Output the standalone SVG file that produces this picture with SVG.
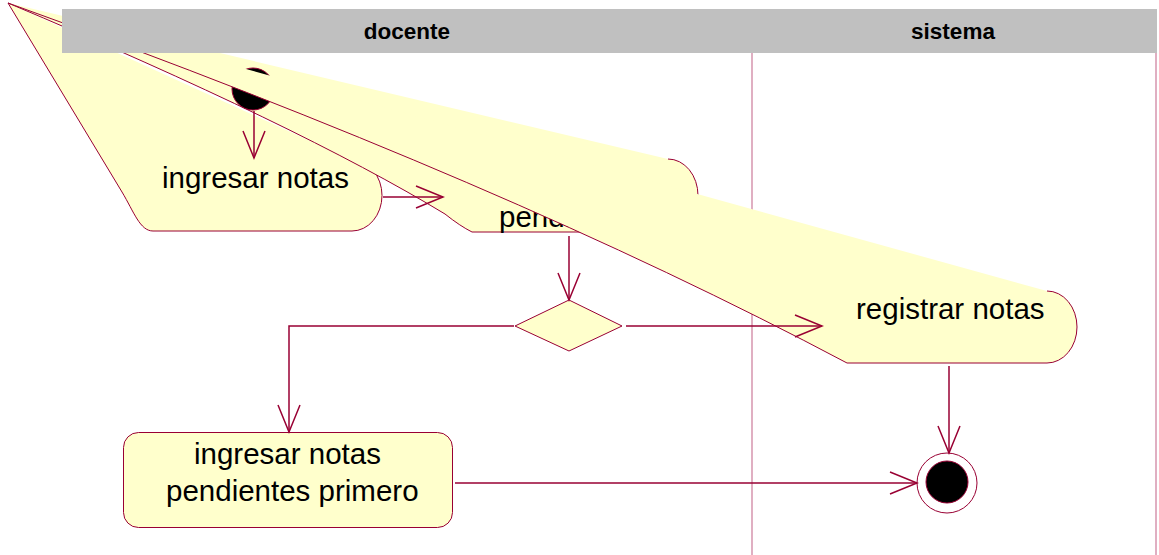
<svg xmlns="http://www.w3.org/2000/svg" width="1159" height="555" viewBox="0 0 1159 555">
<defs>
<style>
.fillY{fill:#FFFFCC;stroke:none}
.edge{fill:none;stroke:#990033;stroke-width:1}
.lane{stroke:#CC7A99;stroke-width:1.2;fill:none}
.lbl{font-family:"Liberation Sans",Arial,sans-serif;font-size:29.5px;fill:#000}
.hdr{font-family:"Liberation Sans",Arial,sans-serif;font-size:22.5px;font-weight:bold;fill:#000;text-anchor:middle}
.conn{fill:none;stroke:#990033;stroke-width:1.5}
</style>
<marker id="arr" markerUnits="userSpaceOnUse" markerWidth="32" markerHeight="26" refX="28" refY="12" orient="auto">
<path d="M1,1 L28,12 L1,23" fill="none" stroke="#990033" stroke-width="1.5"/>
</marker>
</defs>
<rect width="1159" height="555" fill="#FFFFFF"/>
<g id="lanes">
<line class="lane" x1="752" y1="53" x2="752" y2="555"/>
<line class="lane" x1="1156" y1="53" x2="1156" y2="555"/>
</g>
<g id="ingresar-notas">
<path class="fillY" d="M8 3 L122 192 C134 212 140 231 153 231 L352 231 A30 35.5 0 0 0 352 160 Z"/>
<path class="edge" d="M8 3 L122 192 C134 212 140 231 153 231 L352 231 A30 35.5 0 0 0 352 160"/>
<text class="lbl" x="162" y="188">ingresar notas</text>
</g>
<g id="pendientes">
<path class="fillY" d="M8 3 Q298 125 445 214 Q460 226 472 232 L668 232 A30 36.5 0 0 0 668 159 Z"/>
<path class="edge" d="M8 3 Q298 125 445 214 Q460 226 472 232 L668 232 A30 36.5 0 0 0 668 159"/>
<text class="lbl" x="499" y="227">pendientes</text>
</g>
<g id="inicio">
<circle cx="253" cy="89" r="21" fill="#000" stroke="#990033" stroke-width="1"/>
</g>
<g id="registrar-notas">
<path class="fillY" d="M8 3 Q506 182 847 363 L1047 363 A30 36 0 0 0 1047 291 Z"/>
<path class="edge" d="M8 3 Q506 182 847 363 L1047 363 A30 36 0 0 0 1047 291"/>
<text class="lbl" x="856" y="319">registrar notas</text>
</g>
<g id="decision">
<polygon points="515,326 569,300 622,326 569,351" fill="#FFFFCC" stroke="#990033" stroke-width="1"/>
</g>
<g id="ingresar-pendientes-primero">
<rect x="123.5" y="432.5" width="329" height="95" rx="15" ry="15" fill="#FFFFCC" stroke="#990033" stroke-width="1"/>
<text class="lbl" x="194" y="464">ingresar notas</text>
<text class="lbl" x="166" y="501">pendientes primero</text>
</g>
<g id="fin">
<circle cx="947" cy="483" r="30" fill="#FFFFFF" stroke="#990033" stroke-width="1"/>
<circle cx="947" cy="482" r="21" fill="#000" stroke="#990033" stroke-width="1"/>
</g>
<g id="connectors">
<path class="conn" d="M254 111 V158" marker-end="url(#arr)"/>
<path class="conn" d="M383 197 H443" marker-end="url(#arr)"/>
<path class="conn" d="M569 236 V300" marker-end="url(#arr)"/>
<path class="conn" d="M514 326 H289 V432" marker-end="url(#arr)"/>
<path class="conn" d="M626 326 H822" marker-end="url(#arr)"/>
<path class="conn" d="M949 366 V453" marker-end="url(#arr)"/>
<path class="conn" d="M455 483 H917" marker-end="url(#arr)"/>
</g>
<g id="header">
<rect x="62" y="9" width="1095" height="44" fill="#C0C0C0"/>
<text class="hdr" x="407" y="39">docente</text>
<text class="hdr" x="953" y="39">sistema</text>
</g>
</svg>
